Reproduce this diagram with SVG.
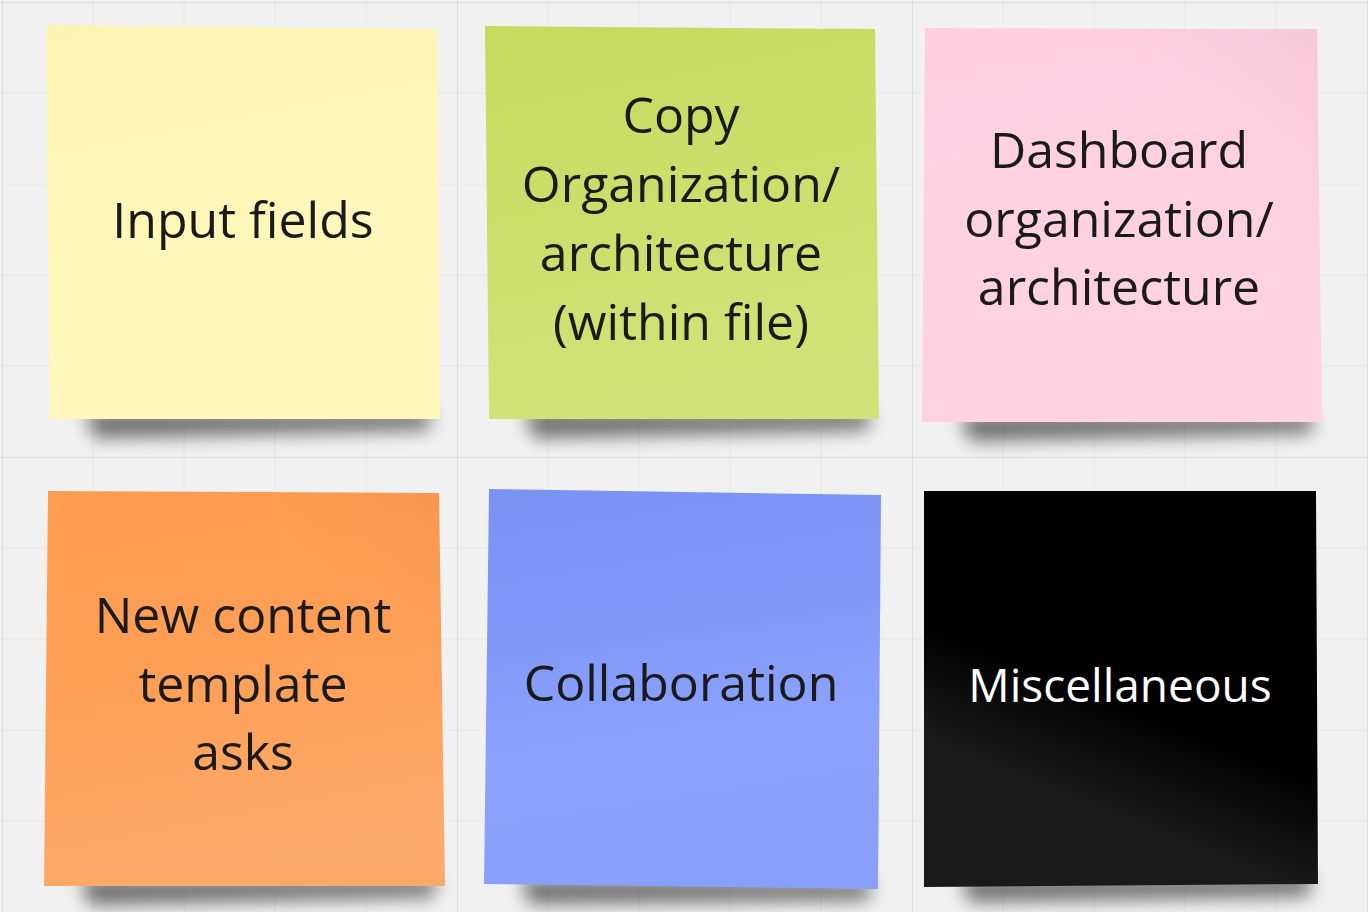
<svg xmlns="http://www.w3.org/2000/svg" width="1368" height="912" viewBox="0 0 1368 912">
  <defs>
    <style>
      .label { font-family: "Open Sans", "Noto Sans", "Liberation Sans", sans-serif; font-size: 50px; fill: #1a1a1a; text-anchor: middle; }
      .label-light { fill: #ffffff; font-size: 46px; }
      .minor { stroke: #e6e6e6; stroke-width: 1; fill: none; }
      .major { stroke: #dedede; stroke-width: 2; fill: none; }
      .shadow { fill: #000; opacity: 0.55; filter: url(#soft); }
    </style>
    <pattern id="grid" x="2" y="2" width="455" height="455" patternUnits="userSpaceOnUse">
      <path class="minor" d="M91 0V455M182 0V455M273 0V455M364 0V455M0 91H455M0 182H455M0 273H455M0 364H455"/>
      <path class="major" d="M0 0V455M0 0H455"/>
    </pattern>
    <filter id="soft" x="-20%" y="-150%" width="140%" height="400%">
      <feGaussianBlur stdDeviation="9"/>
    </filter>
    <linearGradient id="g-yellow" x1="0" y1="0" x2="0.2" y2="1">
      <stop offset="0" stop-color="#fcf3b4"/>
      <stop offset="0.25" stop-color="#fff6b6"/>
      <stop offset="1" stop-color="#fff7bc"/>
    </linearGradient>
    <linearGradient id="g-green" x1="0" y1="0" x2="0.2" y2="1">
      <stop offset="0" stop-color="#c6da5e"/>
      <stop offset="1" stop-color="#d1e378"/>
    </linearGradient>
    <linearGradient id="g-pink" x1="0" y1="0" x2="0.2" y2="1">
      <stop offset="0" stop-color="#ffcfe0"/>
      <stop offset="1" stop-color="#ffd3e2"/>
    </linearGradient>
    <linearGradient id="g-orange" x1="0" y1="0" x2="0.2" y2="1">
      <stop offset="0" stop-color="#fe9c50"/>
      <stop offset="0.5" stop-color="#fe9f56"/>
      <stop offset="1" stop-color="#fcaa6a"/>
    </linearGradient>
    <linearGradient id="g-blue" x1="0" y1="0" x2="0.15" y2="1">
      <stop offset="0" stop-color="#7a92f2"/>
      <stop offset="0.3" stop-color="#7f96f8"/>
      <stop offset="0.7" stop-color="#8ca2fd"/>
      <stop offset="1" stop-color="#88a0fb"/>
    </linearGradient>
    <linearGradient id="g-black" x1="0.55" y1="0.55" x2="0.45" y2="0.8">
      <stop offset="0" stop-color="#000000"/>
      <stop offset="1" stop-color="#1a1a1a"/>
    </linearGradient>
    <!-- curled-corner shading near the top right -->
    <linearGradient id="curl" x1="1" y1="0" x2="0.75" y2="0.3">
      <stop offset="0" stop-color="#000" stop-opacity="0.035"/>
      <stop offset="1" stop-color="#000" stop-opacity="0"/>
    </linearGradient>
  </defs>

  <!-- board background -->
  <rect width="1368" height="912" fill="#f1f1f1"/>
  <rect width="1368" height="912" fill="url(#grid)"/>

  <g id="connectors"/>

  <g id="note-input-fields">
    <polygon class="shadow" points="85,412 432,412 428,430 95,438"/>
    <polygon points="46,25 437,29 440,419 50,419" fill="url(#g-yellow)"/>
    <text class="label" x="243" y="238">Input fields</text>
  </g>

  <g id="note-copy-organization">
    <polygon class="shadow" points="524,412 871,412 867,430 534,438"/>
    <polygon points="485,26 875,29 879,419 489,419" fill="url(#g-green)"/>
    <text class="label" x="681" y="133">Copy</text>
    <text class="label" x="681" y="202">Organization/</text>
    <text class="label" x="681" y="271">architecture</text>
    <text class="label" x="681" y="340">(within file)</text>
  </g>

  <g id="note-dashboard-organization">
    <polygon class="shadow" points="960,415 1314,415 1310,433 970,441"/>
    <polygon points="925,28 1317,29 1322,422 922,422" fill="url(#g-pink)"/>
    <polygon points="925,28 1317,29 1322,422 922,422" fill="url(#curl)"/>
    <text class="label" x="1119" y="168">Dashboard</text>
    <text class="label" x="1119" y="237">organization/</text>
    <text class="label" x="1119" y="305">architecture</text>
  </g>

  <g id="note-new-content">
    <polygon class="shadow" points="80,879 437,879 433,897 90,905"/>
    <polygon points="48,491 439,493 445,886 44,886" fill="url(#g-orange)"/>
    <polygon points="48,491 439,493 445,886 44,886" fill="url(#curl)"/>
    <text class="label" x="243" y="633">New content</text>
    <text class="label" x="243" y="702">template</text>
    <text class="label" x="243" y="770">asks</text>
  </g>

  <g id="note-collaboration">
    <polygon class="shadow" points="520,879 872,882 868,900 530,904"/>
    <polygon points="489,489 881,495 878,889 484,884" fill="url(#g-blue)"/>
    <text class="label" x="681" y="701">Collaboration</text>
  </g>

  <g id="note-miscellaneous">
    <polygon class="shadow" points="960,878 1312,876 1308,896 970,902"/>
    <polygon points="924,491 1316,491 1318,884 924,887" fill="url(#g-black)"/>
    <text class="label label-light" x="1120" y="702">Miscellaneous</text>
  </g>
</svg>
